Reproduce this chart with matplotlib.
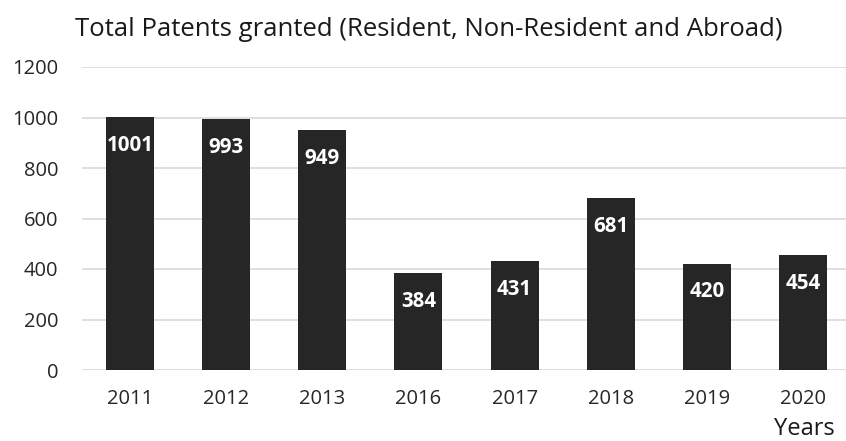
import matplotlib
matplotlib.use("Agg")
import matplotlib.pyplot as plt

years = ["2011", "2012", "2013", "2016", "2017", "2018", "2019", "2020"]
patents = [1001, 993, 949, 384, 431, 681, 420, 454]
y_ticks = [0, 200, 400, 600, 800, 1000, 1200]

plt.rcParams["font.family"] = ["Open Sans", "DejaVu Sans"]

fig = plt.figure(figsize=(8.46, 4.41), dpi=100)
ax = fig.add_axes([82 / 846, 1 - 370 / 441, (851 - 82) / 846, 303 / 441])

x = range(len(years))
bars = ax.bar(x, patents, width=0.5, color="#262626", zorder=3)
for b, v in zip(bars, patents):
    ax.annotate(str(v), (b.get_x() + b.get_width() / 2, v), xytext=(0, -28),
                textcoords="offset pixels", ha="center", va="center",
                color="white", fontsize=14.8, fontweight="bold", zorder=4)

ax.set_xlim(-0.5, len(years) - 0.5)
ax.set_ylim(0, 1200)
ax.set_yticks(y_ticks)
ax.set_xticks(list(x))
ax.set_xticklabels(years)
ax.grid(axis="y", color="#d9d9d9", linewidth=1.2, zorder=0)
for s in ax.spines.values():
    s.set_visible(False)
ax.tick_params(axis="both", length=0, labelsize=14.5, colors="#262626")
ax.tick_params(axis="x", pad=14)
ax.tick_params(axis="y", pad=17)

fig.text(75 / 846, 1 - 30 / 441, "Total Patents granted (Resident, Non-Resident and Abroad)",
         fontsize=18.5, color="#1a1a1a", va="center", ha="left")
fig.text(835 / 846, 1 - 429 / 441, "Years", fontsize=17, color="#1a1a1a",
         va="center", ha="right")

fig.savefig("out.png", dpi=100)
